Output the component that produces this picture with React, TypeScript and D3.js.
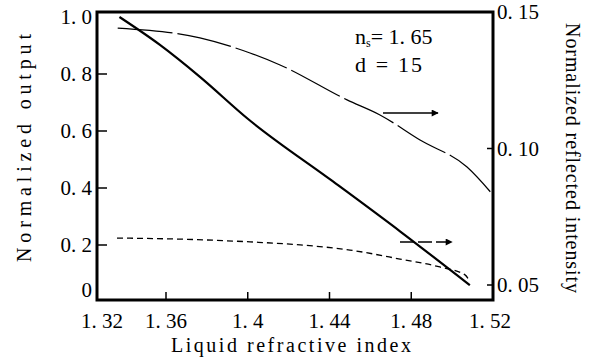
import * as d3 from 'd3';

// x axis
const xTicks = [1.32, 1.36, 1.4, 1.44, 1.48, 1.52];
// left axis (normalized output)
const yTicks = [0, 0.2, 0.4, 0.6, 0.8, 1.0];
// right axis (normalized reflected intensity)
const rTicks = [0.05, 0.1, 0.15];

// normalized output (solid, left axis)
const outputN = [1.333, 1.3565, 1.3766, 1.4, 1.4417, 1.4745, 1.5087];
const outputV = [1.0, 0.902, 0.79, 0.643, 0.423, 0.248, 0.059];

// reflected intensity, upper curve (long dash, right axis)
const reflUpN = [1.332, 1.3766, 1.4011, 1.4158, 1.4486, 1.4647, 1.4843, 1.5073, 1.52];
const reflUpV = [0.1441, 0.1405, 0.135, 0.1306, 0.1178, 0.1123, 0.1031, 0.0932, 0.083];

// reflected intensity, lower curve (short dash, right axis)
const reflLoN = [1.3316, 1.3669, 1.4011, 1.4256, 1.45, 1.4745, 1.494, 1.5063, 1.5087];
const reflLoV = [0.0672, 0.0668, 0.0658, 0.0647, 0.0628, 0.0595, 0.0566, 0.0537, 0.0511];

const W = 589;
const H = 359;
const font = '"Liberation Serif", "DejaVu Serif", serif';

const L = 97, R = 493, T = 12, B = 300;

// the picture's axis is not evenly spaced at its left end
const x = d3.scaleLinear().domain([1.32, 1.36, 1.52]).range([L, 166, R]);
const y = d3.scaleLinear().domain([0, 1]).range([302, 17]);
const yR = d3.scaleLinear().domain([0.05, 0.15]).range([285, 12]);

const fmt = (d: number, digits: number) => (d === 0 ? '0' : d.toFixed(digits).replace('.', '. '));

const lineL = d3.line<number>().x((d, i) => x(outputN[i])).y(d => y(d)).curve(d3.curveMonotoneX);
const lineUp = d3.line<number>().x((d, i) => x(reflUpN[i])).y(d => yR(d)).curve(d3.curveMonotoneX);
const lineLo = d3.line<number>().x((d, i) => x(reflLoN[i])).y(d => yR(d)).curve(d3.curveMonotoneX);

const arrows = [
  { x1: 383, x2: 438, y: 113, dash: undefined },
  { x1: 400, x2: 452, y: 242, dash: '14,4' },
];

export default function App() {
  return (
    <svg width={W} height={H} style={{ position: 'absolute', left: 0, top: 0, background: '#fff' }}>
      <defs>
        <marker id="head" viewBox="0 0 10 10" refX={9} refY={5} markerWidth={11} markerHeight={7}
          markerUnits="userSpaceOnUse" orient="auto">
          <path d="M0,0L10,5L0,10Z" fill="#000" />
        </marker>
      </defs>

      {/* curves */}
      <path d={lineL(outputV) || ''} fill="none" stroke="#000" strokeWidth={2.2} />
      <path d={lineUp(reflUpV) || ''} fill="none" stroke="#000" strokeWidth={1.2} strokeDasharray="55,5" />
      <path d={lineLo(reflLoV) || ''} fill="none" stroke="#000" strokeWidth={1.3} strokeDasharray="6,4" />

      {arrows.map((a, i) => (
        <line key={i} x1={a.x1} x2={a.x2} y1={a.y} y2={a.y} stroke="#000" strokeWidth={1.3}
          strokeDasharray={a.dash} markerEnd="url(#head)" />
      ))}

      {/* frame */}
      <rect x={L} y={T} width={R - L} height={B - T} fill="none" stroke="#000" strokeWidth={3} />

      {/* ticks, pointing inward */}
      {xTicks.slice(1, -1).map(d => (
        <line key={'x' + d} x1={x(d)} x2={x(d)} y1={B} y2={B - 8} stroke="#000" strokeWidth={1.5} />
      ))}
      {yTicks.slice(1, -1).map(d => (
        <line key={'y' + d} x1={L} x2={L + 10} y1={y(d)} y2={y(d)} stroke="#000" strokeWidth={1.5} />
      ))}
      {rTicks.slice(0, -1).map(d => (
        <line key={'r' + d} x1={R} x2={R - 6} y1={yR(d)} y2={yR(d)} stroke="#000" strokeWidth={1.5} />
      ))}

      {/* tick labels */}
      <g fontFamily={font} fontSize={21}>
        {xTicks.map((d, i) => (
          <text key={d} x={x(d) + (i === 0 ? 5 : i === xTicks.length - 1 ? -3 : 0)} y={328} textAnchor="middle">
            {fmt(d, d === 1.4 ? 1 : 2)}
          </text>
        ))}
        {yTicks.map(d => (
          <text key={d} x={92} y={Math.min(y(d), 290)} dy="0.35em" textAnchor="end">
            {fmt(d, 1)}
          </text>
        ))}
        {rTicks.map(d => (
          <text key={d} x={497} y={yR(d)} dy="0.35em">
            {fmt(d, 2)}
          </text>
        ))}
      </g>

      {/* annotation */}
      <text x={355} y={44} fontFamily={font} fontSize={22}>
        n<tspan fontSize={12} dy={3}>s</tspan><tspan dy={-3}>= 1. 65</tspan>
      </text>
      <text x={355} y={72} fontFamily={font} fontSize={22} textLength={67} lengthAdjust="spacing">
        d = 15
      </text>

      {/* axis titles */}
      <text transform="translate(31,148) rotate(-90)" textAnchor="middle" fontFamily={font} fontSize={20}
        textLength={228} lengthAdjust="spacing">
        Normalized output
      </text>
      <text transform="translate(566,158) rotate(90)" textAnchor="middle" fontFamily={font} fontSize={20}
        textLength={270} lengthAdjust="spacing">
        Normalized reflected intensity
      </text>
      <text x={291} y={352} textAnchor="middle" fontFamily={font} fontSize={20}
        textLength={240} lengthAdjust="spacing">
        Liquid refractive index
      </text>
    </svg>
  );
}
